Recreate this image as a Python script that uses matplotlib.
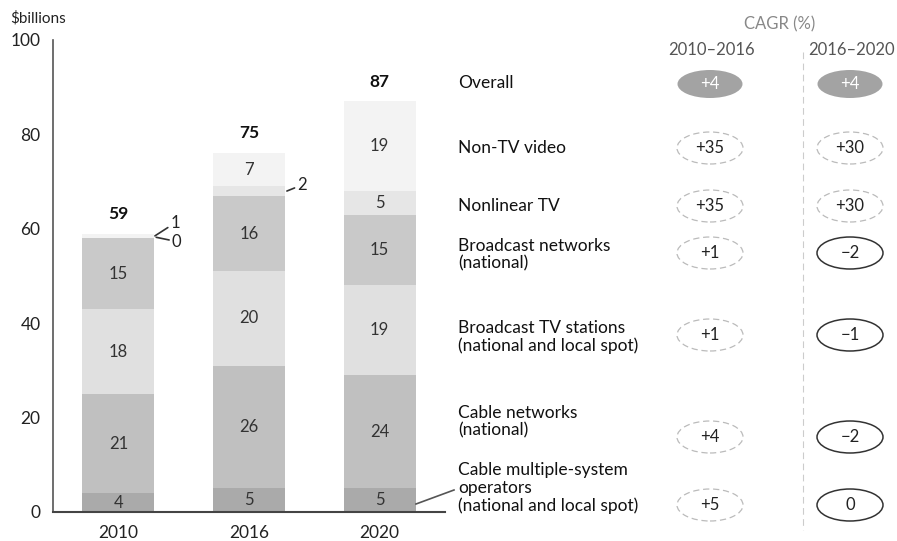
import numpy as np
import matplotlib
matplotlib.use("Agg")
import matplotlib.pyplot as plt
from matplotlib.patches import Ellipse
from matplotlib.lines import Line2D

plt.rcParams['font.family'] = ['Lato', 'DejaVu Sans']

years = ['2010', '2016', '2020']
segments = ['Cable multiple-system\noperators\n(national and local spot)',
            'Cable networks\n(national)',
            'Broadcast TV stations\n(national and local spot)',
            'Broadcast networks\n(national)',
            'Nonlinear TV',
            'Non-TV video']
values = [[4, 5, 5],
          [21, 26, 24],
          [18, 20, 19],
          [15, 16, 15],
          [0, 2, 5],
          [1, 7, 19]]
totals = [59, 75, 87]
colors = ['#aaaaaa', '#c0c0c0', '#e0e0e0', '#c9c9c9', '#e6e6e6', '#f3f3f3']

cagr_rows = ['Overall'] + segments[::-1]
cagr_1016 = ['+4', '+35', '+35', '+1', '+1', '+4', '+5']
cagr_1620 = ['+4', '+30', '+30', '\u22122', '\u22121', '\u22122', '0']

W, H = 897, 541
fig = plt.figure(figsize=(W / 100, H / 100), dpi=100)


def fx(x):
    return x / W


def fy(y):
    return 1 - y / H


ax = fig.add_axes([fx(53), fy(512), fx(445) - fx(53), fy(40) - fy(512)])
x = np.arange(len(years))
bottom = np.zeros(len(years))
for i, seg in enumerate(values):
    seg = np.array(seg)
    ax.bar(x, seg, 0.55, bottom=bottom, color=colors[i], linewidth=0)
    for j in range(len(years)):
        v = seg[j]
        if v >= 4:
            ax.text(x[j], bottom[j] + v / 2, str(v), ha='center', va='center',
                    fontsize=12, color='#333333')
    bottom = bottom + seg

for j in range(len(years)):
    ax.text(x[j], bottom[j] + 2.5, str(totals[j]), ha='center', va='bottom',
            fontsize=12.5, fontweight='bold', color='#111111')

# small segments labelled outside the bars
base_2010 = sum(values[k][0] for k in range(4))
ax.annotate('1', xy=(0.28, base_2010 + 0.5), xytext=(0.4, base_2010 + 3.3),
            fontsize=12, color='#222222', va='center', ha='left',
            arrowprops=dict(arrowstyle='-', color='#333333', lw=1.2, shrinkA=0, shrinkB=0))
ax.annotate('0', xy=(0.29, base_2010 + 0.2), xytext=(0.41, base_2010 - 0.7),
            fontsize=12, color='#222222', va='center', ha='left',
            arrowprops=dict(arrowstyle='-', color='#333333', lw=1.2, shrinkA=0, shrinkB=0))
base_2016 = sum(values[k][1] for k in range(4))
ax.annotate('2', xy=(1.29, base_2016 + 1), xytext=(1.37, base_2016 + 2.3),
            fontsize=12, color='#222222', va='center', ha='left',
            arrowprops=dict(arrowstyle='-', color='#333333', lw=1.2, shrinkA=0, shrinkB=0))

ax.set_xlim(-0.5, 2.5)
ax.set_ylim(0, 100)
ax.set_yticks(np.arange(0, 101, 20))
ax.set_xticks(x)
ax.set_xticklabels(years)
ax.tick_params(length=0, labelsize=12.5, colors='#222222')
ax.tick_params(axis='y', pad=9)
ax.tick_params(axis='x', pad=9)
for s in ['top', 'right']:
    ax.spines[s].set_visible(False)
ax.spines['left'].set_color('#555555')
ax.spines['bottom'].set_color('#444444')
ax.spines['left'].set_linewidth(1.2)
ax.spines['bottom'].set_linewidth(1.5)

fig.text(fx(10), fy(18), '\\$billions', fontsize=11, color='#222222', va='center', ha='left')

# category labels on the right
label_y = [83, 148, 206, 255, 337, 422, 488]
for name, yy in zip(cagr_rows, label_y):
    fig.text(fx(458), fy(yy), name, fontsize=12.5, color='#111111', va='center',
             ha='left', linespacing=1.12)

# leader line from 2020 MSO segment
fig.add_artist(Line2D([fx(416), fx(454)], [fy(504), fy(490)], color='#555555', lw=1.2))

# CAGR header
fig.text(fx(780), fy(24), 'CAGR (%)', fontsize=12, color='#888888', ha='center', va='center')
fig.text(fx(711), fy(50), '2010\u20132016', fontsize=12, color='#555555', ha='center', va='center')
fig.text(fx(851), fy(50), '2016\u20132020', fontsize=12, color='#555555', ha='center', va='center')
fig.add_artist(Line2D([fx(803), fx(803)], [fy(52), fy(530)], color='#cccccc', lw=0.8,
                      linestyle=(0, (6, 4))))

oval_y = [84, 148, 206, 253, 335, 437, 505]
for i, yy in enumerate(oval_y):
    for cx, vals in [(710, cagr_1016), (850, cagr_1620)]:
        if i == 0:
            e = Ellipse((fx(cx), fy(yy)), fx(65), 28 / H, transform=fig.transFigure,
                        facecolor='#a3a3a3', edgecolor='none')
            tc = 'white'
        else:
            neg = cx == 850 and i >= 3
            e = Ellipse((fx(cx), fy(yy)), fx(66), 32 / H, transform=fig.transFigure,
                        facecolor='white', edgecolor='#333333' if neg else '#bbbbbb',
                        lw=1.1 if neg else 0.9, linestyle='-' if neg else (0, (5, 3)))
            tc = '#222222'
        fig.add_artist(e)
        fig.text(fx(cx), fy(yy), vals[i], fontsize=12, color=tc, ha='center', va='center')

fig.savefig('out.png', dpi=100)
